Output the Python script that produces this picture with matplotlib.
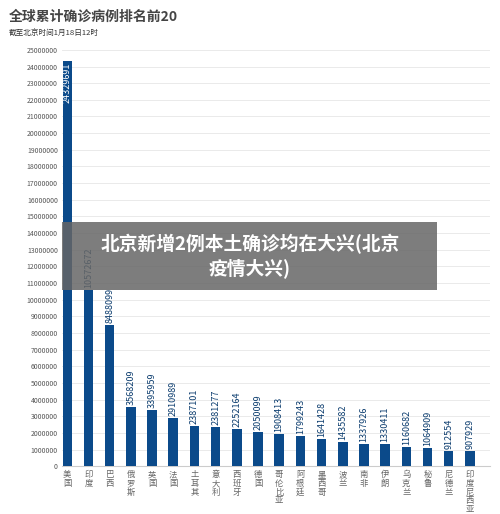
import matplotlib
matplotlib.use("Agg")
import matplotlib.pyplot as plt
from matplotlib.patches import Rectangle

plt.rcParams['font.family'] = ['Noto Sans CJK SC', 'DejaVu Sans']

countries = ["美国","印度","巴西","俄罗斯","英国","法国","土耳其","意大利","西班牙","德国",
             "哥伦比亚","阿根廷","墨西哥","波兰","南非","伊朗","乌克兰","秘鲁","尼德兰","印度尼西亚"]
values = [24329691,10572672,8488099,3568209,3395959,2910989,2387101,2381277,2252164,2050099,
          1908413,1799243,1641428,1435582,1337926,1330411,1160682,1064909,912554,907929]
yticks = list(range(0, 25000001, 1000000))

fig = plt.figure(figsize=(5, 5.14), dpi=100)
ax = fig.add_axes([0.124, 0.093, 0.856, 0.81])
x = range(len(values))
ax.bar(x, values, width=0.45, color="#0b4a8a", zorder=3)
for i, v in enumerate(values):
    lab = str(v)
    if i == 0:
        ax.text(i, v - 100000, lab, rotation=90, ha='center', va='top', color='white', fontsize=6.5, zorder=4)
    else:
        ax.text(i, v + 120000, lab, rotation=90, ha='center', va='bottom', color='#0b3c6e', fontsize=6.5, zorder=4)
ax.set_ylim(0, 25000000)
ax.set_xlim(-0.25, 19.95)
ax.set_yticks(yticks)
ax.set_yticklabels([str(t) for t in yticks], fontsize=5, color='#555555')
ax.set_xticks(list(x))
ax.set_xticklabels(["\n".join(c) for c in countries], fontsize=6, color='#666666', linespacing=0.95, va='top')
ax.grid(axis='y', color='#e6e6e6', linewidth=0.6, zorder=0)
for s in ['top', 'right', 'left']:
    ax.spines[s].set_visible(False)
ax.spines['bottom'].set_color('#cccccc')
ax.tick_params(length=0, pad=3)

fig.text(0.018, 0.968, "全球累计确诊病例排名前20", fontsize=10, fontweight='bold', color='#444444', va='center')
fig.text(0.018, 0.935, "截至北京时间1月18日12时", fontsize=5.5, color='#333333', va='center')

fig.patches.append(Rectangle((0.124, 0.436), 0.75, 0.132, transform=fig.transFigure,
                             facecolor='#666666', alpha=0.85, zorder=10))
fig.text(0.5, 0.502, "北京新增2例本土确诊均在大兴(北京\n疫情大兴)", ha='center', va='center',
         fontsize=13.5, fontweight='bold', color='white', zorder=11, linespacing=1.3)

fig.savefig("out.png", dpi=100, facecolor='white')
